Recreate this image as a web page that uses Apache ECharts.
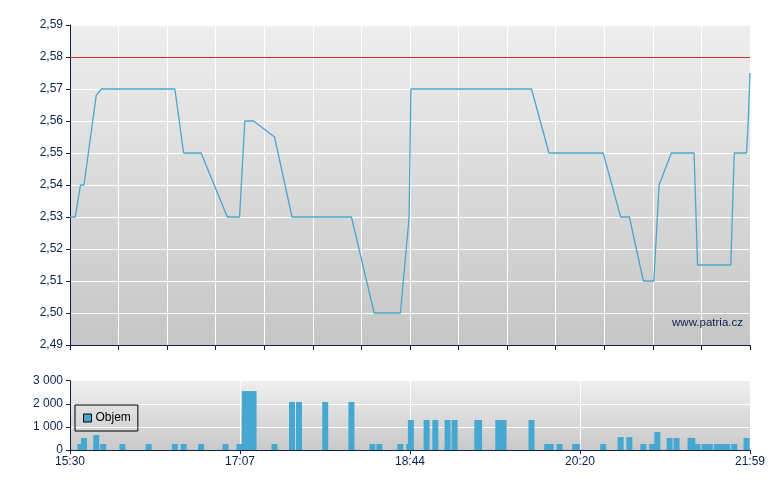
<!DOCTYPE html>
<html>
<head>
<meta charset="utf-8">
<script src="https://cdn.jsdelivr.net/npm/echarts@6/dist/echarts.min.js"></script>
<style>
html,body{margin:0;padding:0;background:#fff;}
#chart{width:780px;height:490px;}
</style>
</head>
<body>
<div id="chart"></div>
<script>
// ---- data ----
var startTime = "15:30";
var endTime = "21:59";
var xTickLabels = ["15:30", "17:07", "18:44", "20:20", "21:59"];
var priceTicks = [2.49, 2.50, 2.51, 2.52, 2.53, 2.54, 2.55, 2.56, 2.57, 2.58, 2.59];
var volumeTicks = [0, 1000, 2000, 3000];
var referencePrice = 2.58;

var priceTimes = ["15:30","15:33","15:36","15:38","15:45","15:48","16:30","16:35","16:45","17:00",
  "17:07","17:10","17:15","17:27","17:37","18:11","18:24","18:39","18:44","18:45",
  "19:54","20:04","20:35","20:45","20:50","20:58","21:04","21:07","21:14","21:27",
  "21:29","21:48","21:50","21:57","21:58","21:59"];
var priceValues = [2.53,2.53,2.54,2.54,2.568,2.57,2.57,2.55,2.55,2.53,
  2.53,2.56,2.56,2.555,2.53,2.53,2.50,2.50,2.53,2.57,
  2.57,2.55,2.55,2.53,2.53,2.51,2.51,2.54,2.55,2.55,
  2.515,2.515,2.55,2.55,2.56,2.575];

var volumeTimes = ["15:36","15:38","15:45","15:49","16:00","16:15","16:30","16:35","16:45","16:59",
  "17:07","17:10","17:13","17:15","17:27","17:37","17:41","17:56","18:11","18:23",
  "18:27","18:39","18:44","18:45","18:54","18:59","19:06","19:10","19:23","19:24",
  "19:35","19:38","19:54","20:03","20:05","20:10","20:19","20:20","20:35","20:45",
  "20:50","20:58","21:03","21:06","21:13","21:17","21:25","21:26","21:29","21:33",
  "21:36","21:40","21:43","21:46","21:50","21:57"];
var volumeValues = [260,520,650,260,260,260,260,260,260,260,
  260,2550,2550,2550,260,2080,2080,2080,2080,260,
  260,260,260,1300,1300,1300,1300,1300,1300,1300,
  1300,1300,1300,260,260,260,260,260,260,560,
  560,260,260,780,520,520,520,520,260,260,
  260,260,260,260,260,520];

// ---- helpers ----
function toMin(t) {
  var p = t.split(":");
  return parseInt(p[0], 10) * 60 + parseInt(p[1], 10);
}
var t0 = toMin(startTime);
var span = toMin(endTime) - t0;
function off(t) { return toMin(t) - t0; }

var priceData = priceTimes.map(function (t, i) { return [off(t), priceValues[i]]; });
var volumeData = volumeTimes.map(function (t, i) { return [off(t), volumeValues[i]]; });

var navy = '#0a2050';
var font = 'Liberation Sans, Arial, sans-serif';
var barColor = '#46a8d0';

function bg(top, bottom) {
  return new echarts.graphic.LinearGradient(0, 0, 0, 1, [
    { offset: 0, color: top }, { offset: 1, color: bottom }
  ]);
}

var topInterval = span / 14;
var botInterval = span / (xTickLabels.length - 1);

var chart = echarts.init(document.getElementById('chart'), null, { renderer: 'canvas' });
chart.setOption({
  animation: false,
  backgroundColor: '#ffffff',
  textStyle: { fontFamily: font },
  grid: [
    { left: 70, top: 25, width: 680, height: 320, show: true, borderWidth: 0,
      backgroundColor: bg('#eeeeee', '#c6c6c6') },
    { left: 70, top: 380.7, width: 680, height: 69.3, show: true, borderWidth: 0,
      backgroundColor: bg('#efefef', '#c9c9c9') }
  ],
  legend: {
    data: ['Objem'],
    left: 75, top: 405,
    orient: 'vertical',
    padding: [7, 7, 7, 8],
    borderColor: '#000000',
    borderWidth: 1,
    borderRadius: 0,
    shadowBlur: 0,
    backgroundColor: 'transparent',
    itemWidth: 8, itemHeight: 8, itemGap: 0,
    icon: 'rect',
    itemStyle: { borderColor: '#000000', borderWidth: 1 },
    textStyle: { color: '#000000', fontSize: 12, fontFamily: font, padding: [0, 0, 0, -1] },
    selectedMode: false
  },
  xAxis: [
    { type: 'value', gridIndex: 0, min: 0, max: span, interval: topInterval,
      axisLine: { show: true, onZero: false, lineStyle: { color: navy, width: 1 } },
      axisTick: { show: true, length: 5, lineStyle: { color: navy } },
      axisLabel: { show: false },
      splitLine: { show: true, lineStyle: { color: '#ffffff', width: 1 } } },
    { type: 'value', gridIndex: 1, min: 0, max: span, interval: botInterval,
      axisLine: { show: true, onZero: false, lineStyle: { color: navy, width: 1 } },
      axisTick: { show: true, length: 4, lineStyle: { color: navy } },
      axisLabel: { show: true, color: navy, fontSize: 12, fontFamily: font, margin: 6,
        formatter: function (v) { return xTickLabels[Math.round(v / botInterval)] || ''; } },
      splitLine: { show: true, lineStyle: { color: '#ffffff', width: 1 } } }
  ],
  yAxis: [
    { type: 'value', gridIndex: 0, min: priceTicks[0], max: priceTicks[priceTicks.length - 1], interval: 0.01,
      axisLine: { show: true, lineStyle: { color: navy, width: 1 } },
      axisTick: { show: true, length: 4, lineStyle: { color: navy } },
      axisLabel: { color: navy, fontSize: 12, fontFamily: font, margin: 7,
        formatter: function (v) { return v.toFixed(2).replace('.', ','); } },
      splitLine: { show: true, lineStyle: { color: '#ffffff', width: 1 } } },
    { type: 'value', gridIndex: 1, min: volumeTicks[0], max: volumeTicks[volumeTicks.length - 1], interval: 1000,
      axisLine: { show: true, lineStyle: { color: navy, width: 1 } },
      axisTick: { show: true, length: 4, lineStyle: { color: navy } },
      axisLabel: { color: navy, fontSize: 12, fontFamily: font, margin: 7,
        formatter: function (v) { return String(Math.round(v)).replace(/\B(?=(\d{3})+(?!\d))/g, ' '); } },
      splitLine: { show: true, lineStyle: { color: '#ffffff', width: 1 } } }
  ],
  graphic: [
    { type: 'text', right: 780 - 743, top: 317, z: 100,
      style: { text: 'www.patria.cz', fill: navy, font: '11.5px ' + font } }
  ],
  series: [
    { name: 'Cena', type: 'line', xAxisIndex: 0, yAxisIndex: 0, data: priceData,
      symbol: 'none', showSymbol: false,
      lineStyle: { color: '#4aa6cf', width: 1.3 },
      markLine: { silent: true, symbol: 'none', label: { show: false },
        lineStyle: { color: '#c83232', width: 1, type: 'solid' },
        data: [{ yAxis: referencePrice }] } },
    { name: 'Objem', type: 'bar', xAxisIndex: 1, yAxisIndex: 1, data: volumeData,
      barWidth: 6, itemStyle: { color: barColor } }
  ]
});
</script>
</body>
</html>
